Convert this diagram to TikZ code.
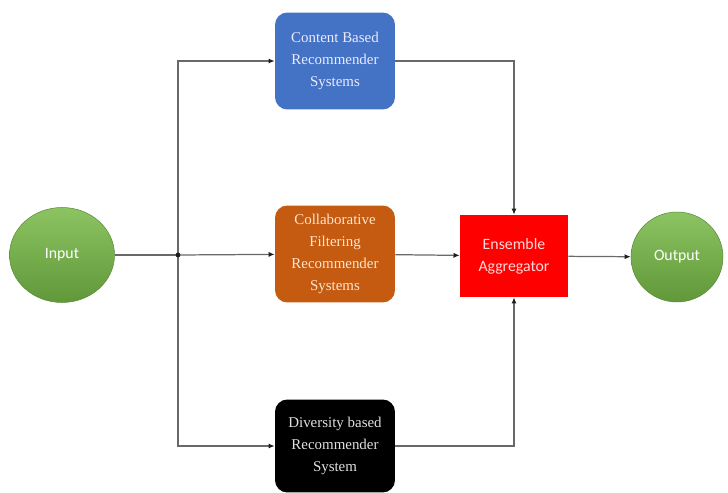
\documentclass[tikz,border=0pt]{standalone}
\usepackage{fontspec}
\setmainfont{Liberation Serif}
\newfontfamily\calib{Carlito}
\usepackage{xcolor}
\usepackage{tikz}
\usetikzlibrary{arrows.meta,shapes.geometric}
\definecolor{figline}{RGB}{105,105,105}
\definecolor{figtip}{RGB}{30,30,30}
\definecolor{cbblue}{RGB}{68,114,196}
\definecolor{cforange}{RGB}{197,90,17}
\definecolor{aggred}{RGB}{255,0,0}
\definecolor{iogreen}{RGB}{112,173,71}
\definecolor{iogreenlt}{RGB}{140,196,98}
\definecolor{iogreendk}{RGB}{96,152,58}
\tikzset{
  recbox/.style ={rounded corners=7pt, minimum width=2.4cm, minimum height=1.94cm,
                  align=center, inner sep=2pt, font=\fontsize{8.5}{12.5}\selectfont},
  iobox/.style  ={ellipse, top color=iogreenlt, bottom color=iogreendk, draw=iogreen!80!black,
                  line width=0.3pt, text=white, font=\calib\fontsize{9}{11}\selectfont},
  lnk/.style    ={draw=figline, line width=0.7pt},
  tip/.style    ={lnk, -{Latex[length=3.5pt,width=3pt,color=figtip]}},
}
\begin{document}
\begin{tikzpicture}[x=0.02cm,y=-0.02cm]
  \useasboundingbox (0,0) rectangle (728,493);
  \node[iobox, minimum width=2.1cm, minimum height=1.9cm] (in) at (62,255) {Input};
  \node[iobox, minimum width=1.84cm, minimum height=1.8cm] (out) at (677,257) {Output};
  \node[recbox, fill=cbblue, text=blue!8] (cb) at (335,61)
    {Content Based\\Recommender\\Systems};
  \node[recbox, fill=cforange, text=orange!20] (cf) at (335,254)
    {Collaborative\\Filtering\\Recommender\\Systems};
  \node[recbox, fill=black, text=black!12, minimum height=1.86cm] (div) at (335,446)
    {Diversity based\\Recommender\\System};
  \node[fill=aggred, text=white!85!red, minimum width=2.16cm, minimum height=1.64cm,
        align=center, font=\calib\fontsize{9}{12.5}\selectfont] (agg) at (514,256)
    {Ensemble\\Aggregator};
  \coordinate (split) at (178,255);
  % input fan-out
  \draw[lnk] (in) -- (split);
  \draw[tip] (split) -- (cf);
  \draw[tip] (split) |- (cb);
  \draw[tip] (split) |- (div);
  \fill[figtip] (split) circle (2.4);
  % into the aggregator
  \draw[tip] (cb) -| (agg);
  \draw[tip] (cf) -- (agg);
  \draw[tip] (div) -| (agg);
  \draw[tip] (agg) -- (out);
\end{tikzpicture}
\end{document}
